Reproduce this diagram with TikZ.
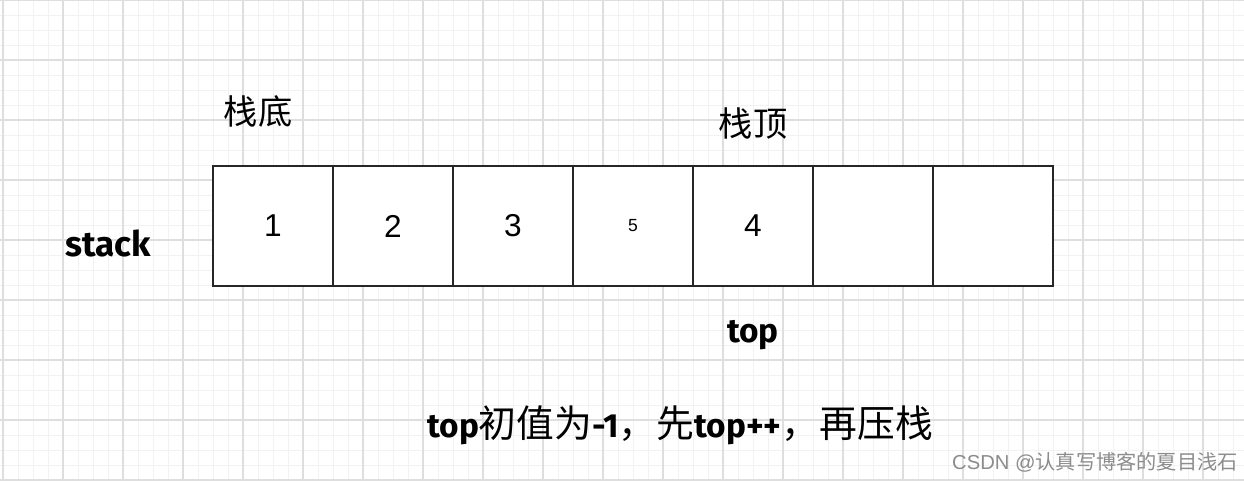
\documentclass[tikz,border=0pt]{standalone}
\usepackage{fontspec}
\setmainfont{Liberation Sans}
\newfontfamily\cjk{Noto Sans CJK SC}
\newfontfamily\hand{Fira Sans}
\usepackage{tikz}

\newcommand\handtext[1]{{\hand\bfseries\fontsize{19}{21}\selectfont #1}}
\newcommand\cjktext[1]{{\cjk\mdseries\fontsize{21.5}{23}\selectfont #1}}

\tikzset{
  minorline/.style={draw=black!5, line width=0.4pt},
  majorline/.style={draw=black!13, line width=0.6pt},
  cell/.style={draw=black!85, fill=white, line width=0.8pt, minimum width=2.4cm,
    minimum height=2.4cm, inner sep=0pt, font=\fontsize{18}{20}\selectfont},
  cjklabel/.style={font=\cjk\fontsize{19.5}{22}\selectfont, inner sep=0pt},
  handlabel/.style={font=\hand\bfseries\fontsize{20}{22}\selectfont, inner sep=0pt}
}

\begin{document}
\begin{tikzpicture}[x=0.02cm,y=-0.02cm]
            \useasboundingbox (0,0) rectangle (1244,481);
            \fill[white] (0,0) rectangle (1244,481);

            % graph paper
            \foreach \x in {3,18,...,1244}
                \draw[minorline] (\x,0) -- (\x,481);
            \foreach \y in {0,15,...,481}
                \draw[minorline] (0,\y) -- (1244,\y);
            \foreach \x in {3,63,...,1244}
                \draw[majorline] (\x,0) -- (\x,481);
            \foreach \y in {0,60,...,481}
                \draw[majorline] (0,\y) -- (1244,\y);

            % stack cells
            \foreach \v [count=\i] in {1,2,3,{\fontsize{10}{12}\selectfont 5},4,{},{}}
                \node[cell] (c\i) at ({153+120*\i},226) {\v};

            \node[cjklabel] (bottom) at (258,111) {栈底};
            \node[cjklabel] (topcjk) at (753,124) {栈顶};
            \node[handlabel] (stack) at (108,243) {stack};
            \node[handlabel, font=\hand\bfseries\fontsize{19}{21}\selectfont] (top) at (753,335) {top};

            \node[inner sep=0pt] (note) at (680,425)
                {\handtext{top}\cjktext{初值为}\handtext{-1}\cjktext{，先}\handtext{top++}\cjktext{，再压栈}};

            \node[text=black!45, inner sep=0pt, anchor=east] (mark) at (1238,462)
                {\fontsize{11.5}{13}\selectfont CSDN @\cjk 认真写博客的夏目浅石};
        \end{tikzpicture}
\end{document}
